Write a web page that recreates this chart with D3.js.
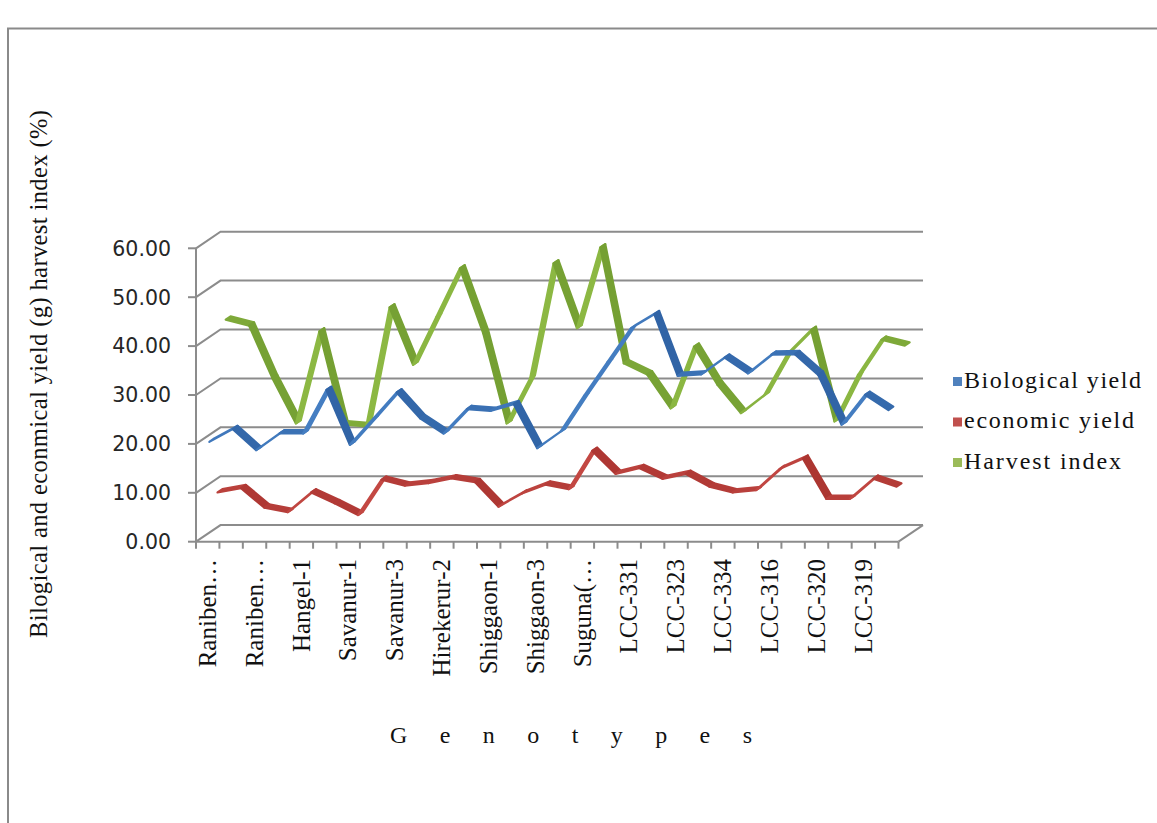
<!DOCTYPE html>
<html>
<head>
<meta charset="utf-8">
<script src="https://cdn.jsdelivr.net/npm/d3@7"></script>
<style>
  html, body { margin: 0; padding: 0; background: #fff; }
  svg { display: block; }
</style>
</head>
<body>
<svg id="chart" width="1157" height="823"></svg>
<script>
// Genotype tick labels (every other category carries a label)
const tickLabels = [
  "Raniben\u2026", "", "Raniben\u2026", "", "Hangel-1", "", "Savanur-1", "",
  "Savanur-3", "", "Hirekerur-2", "", "Shiggaon-1", "", "Shiggaon-3", "",
  "Suguna(\u2026", "", "LCC-331", "", "LCC-323", "", "LCC-334", "",
  "LCC-316", "", "LCC-320", "", "LCC-319", ""
];

// Series values per genotype
const biologicalYield = [20.2, 22.8, 18.5, 21.9, 21.9, 30.8, 19.6, 24.9, 30.3, 25.0,
                         21.9, 26.9, 26.5, 27.9, 18.9, 22.3, 29.6, 36.5, 43.4, 46.3,
                         33.7, 34.0, 37.4, 34.2, 38.0, 38.1, 33.9, 23.7, 29.8, 26.7];
const economicYield   = [8.7, 9.6, 5.6, 4.7, 8.7, 6.5, 4.1, 11.3, 10.1, 10.6,
                         11.6, 10.8, 5.8, 8.5, 10.3, 9.4, 17.2, 12.5, 13.7, 11.5,
                         12.5, 9.9, 8.7, 9.2, 13.5, 15.6, 7.4, 7.4, 11.5, 9.9];
const harvestIndex    = [42.9, 41.7, 30.9, 21.7, 40.5, 21.5, 21.1, 45.4, 33.7, 43.5,
                         53.4, 40.1, 21.7, 30.9, 54.4, 41.2, 57.7, 34.0, 31.7, 24.8,
                         37.4, 29.6, 23.8, 27.5, 36.0, 40.8, 22.1, 31.6, 38.8, 37.6];

const seriesNames = ["Biological yield", "economic yield", "Harvest index"];
const yTicks = [0, 10, 20, 30, 40, 50, 60];

const series = [
  { name: seriesNames[0], values: biologicalYield, depth: 1 / 6, base: "#4F81BD", light: "#4680c4", dark: "#3063a5" },
  { name: seriesNames[1], values: economicYield,   depth: 3 / 6, base: "#C0504D", light: "#c54a45", dark: "#aa3430" },
  { name: seriesNames[2], values: harvestIndex,    depth: 5 / 6, base: "#9BBB59", light: "#8cb843", dark: "#75a033" }
];

const svg = d3.select("#chart");
const n = tickLabels.length;

// Front plane scales plus the oblique depth offset of the 3-D box
const x = d3.scaleLinear().domain([0, n]).range([196, 898.5]);
const y = d3.scaleLinear().domain([0, 60]).range([541.7, 248.3]);
const DX = 24.5, DY = 16.6;
const halfDepth = 0.1;

const proj = (i, v, d) => [x(i + 0.5) + d * DX, y(v) - d * DY];

const gridColor = "#8c8c8c";

// Outer frame (top and left edges)
svg.append("path")
  .attr("d", "M8,823 L8,28.5 L1157,28.5")
  .attr("fill", "none").attr("stroke", "#8a8a8a").attr("stroke-width", 2);

// Back wall gridlines with their side-wall diagonals
const grid = svg.append("g").attr("fill", "none").attr("stroke", gridColor).attr("stroke-width", 2);
yTicks.forEach(v => {
  grid.append("path")
    .attr("d", `M${x(0)},${y(v)} L${x(0) + DX},${y(v) - DY} L${x(n) + DX},${y(v) - DY}`);
});
// Floor right edge
grid.append("path").attr("d", `M${x(n)},${y(0)} L${x(n) + DX},${y(0) - DY}`);

// Ribbons: each segment is a quad spanning a slice of depth
const ribbonLayer = svg.append("g");
[...series].reverse().forEach(s => {
  const d0 = s.depth - halfDepth, d1 = s.depth + halfDepth;
  const shade = d3.interpolateRgb(s.light, s.dark);
  const g = ribbonLayer.append("g");
  for (let i = 0; i < s.values.length - 1; i++) {
    const a = proj(i, s.values[i], d0), b = proj(i + 1, s.values[i + 1], d0);
    const c = proj(i + 1, s.values[i + 1], d1), e = proj(i, s.values[i], d1);
    const dx = b[0] - a[0], dy = b[1] - a[1];
    const t = (dy / Math.hypot(dx, dy) + 1) / 2;
    const col = shade(t);
    g.append("path")
      .attr("d", d3.line()([a, b, c, e]) + "Z")
      .attr("fill", col)
      .attr("stroke", col)
      .attr("stroke-width", 2.2)
      .attr("stroke-linejoin", "round");
  }
});

// Value axis (front left edge) with ticks and labels
const axis = svg.append("g");
axis.append("line")
  .attr("x1", x(0)).attr("x2", x(0)).attr("y1", y(60)).attr("y2", y(0))
  .attr("stroke", gridColor).attr("stroke-width", 2);
axis.selectAll("line.yt").data(yTicks).join("line").attr("class", "yt")
  .attr("x1", x(0) - 8).attr("x2", x(0)).attr("y1", d => y(d)).attr("y2", d => y(d))
  .attr("stroke", gridColor).attr("stroke-width", 2);
axis.selectAll("text.yl").data(yTicks).join("text").attr("class", "yl")
  .attr("x", 171).attr("y", d => y(d))
  .attr("dy", "0.36em")
  .attr("text-anchor", "end")
  .attr("font-family", "DejaVu Sans, Verdana, sans-serif")
  .attr("font-size", 20.5)
  .attr("fill", "#262626")
  .text(d => d3.format(".2f")(d));

// Category axis (front floor edge)
axis.append("line")
  .attr("x1", x(0)).attr("x2", x(n)).attr("y1", y(0)).attr("y2", y(0))
  .attr("stroke", gridColor).attr("stroke-width", 2);
axis.selectAll("line.xt").data(d3.range(n + 1)).join("line").attr("class", "xt")
  .attr("x1", d => x(d)).attr("x2", d => x(d)).attr("y1", y(0)).attr("y2", y(0) + 7)
  .attr("stroke", gridColor).attr("stroke-width", 2);
axis.selectAll("text.xl").data(tickLabels.map((t, i) => ({ t, i })).filter(d => d.t))
  .join("text").attr("class", "xl")
  .attr("transform", d => `translate(${x(d.i + 0.5)},559) rotate(-90)`)
  .attr("dy", "0.33em")
  .attr("text-anchor", "end")
  .attr("font-family", "Liberation Serif, Times New Roman, serif")
  .attr("font-size", 25)
  .attr("fill", "#111")
  .text(d => d.t);

// Axis titles
svg.append("text")
  .attr("transform", "translate(47,374) rotate(-90)")
  .attr("text-anchor", "middle")
  .attr("textLength", 528).attr("lengthAdjust", "spacing")
  .attr("font-family", "Liberation Serif, Times New Roman, serif")
  .attr("font-size", 24.5)
  .attr("fill", "#111")
  .text("Bilogical and econmical yield (g) harvest index (%)");

svg.append("text")
  .attr("x", 390).attr("y", 743)
  .attr("textLength", 362).attr("lengthAdjust", "spacing")
  .attr("font-family", "Liberation Serif, Times New Roman, serif")
  .attr("font-size", 24)
  .attr("fill", "#111")
  .text("G e n o t y p e s");

// Legend
const legend = svg.append("g").attr("transform", "translate(953,377)");
const legendWidths = [177, 170, 157];
series.forEach((s, k) => {
  const row = legend.append("g").attr("transform", `translate(0,${k * 40.5})`);
  row.append("rect").attr("width", 9).attr("height", 9).attr("fill", s.base);
  row.append("text")
    .attr("x", 11).attr("y", 10.5)
    .attr("textLength", legendWidths[k]).attr("lengthAdjust", "spacing")
    .attr("font-family", "Liberation Serif, Times New Roman, serif")
    .attr("font-size", 24)
    .attr("fill", "#111")
    .text(s.name);
});
</script>
</body>
</html>
